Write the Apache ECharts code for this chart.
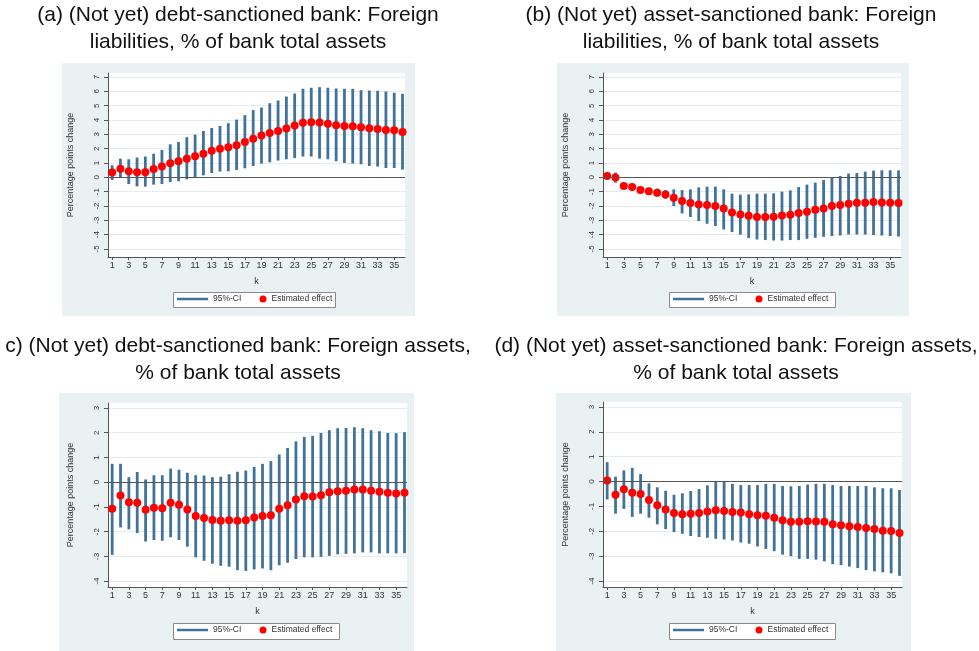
<!DOCTYPE html>
<html>
<head>
<meta charset="utf-8">
<script src="https://cdn.jsdelivr.net/npm/echarts@6/dist/echarts.min.js"></script>
<style>
html,body{margin:0;padding:0;background:#fff;}
#chart{width:979px;height:651px;}
</style>
</head>
<body>
<div id="chart"></div>
<script>
// horizon k and tick labels
var k = [1,2,3,4,5,6,7,8,9,10,11,12,13,14,15,16,17,18,19,20,21,22,23,24,25,26,27,28,29,30,31,32,33,34,35,36];
var xTicks = [1,3,5,7,9,11,13,15,17,19,21,23,25,27,29,31,33,35];
var yTicksTop = [-5,-4,-3,-2,-1,0,1,2,3,4,5,6,7];
var yTicksBottom = [-4,-3,-2,-1,0,1,2,3];

var titles = [
	'(a) (Not yet) debt-sanctioned bank: Foreign\nliabilities, % of bank total assets',
	'(b) (Not yet) asset-sanctioned bank: Foreign\nliabilities, % of bank total assets',
	'c) (Not yet) debt-sanctioned bank: Foreign assets,\n% of bank total assets',
	'(d) (Not yet) asset-sanctioned bank: Foreign assets,\n% of bank total assets'
];

// (a) debt-sanctioned, foreign liabilities
var estA = [0.33,0.6,0.42,0.35,0.35,0.58,0.75,0.98,1.12,1.3,1.47,1.65,1.86,2.0,2.1,2.24,2.47,2.7,2.91,3.1,3.24,3.4,3.61,3.8,3.85,3.82,3.73,3.64,3.59,3.57,3.5,3.43,3.38,3.31,3.29,3.17];
var hiA = [0.84,1.3,1.26,1.38,1.45,1.65,1.91,2.3,2.47,2.8,2.98,3.24,3.45,3.59,3.78,4.03,4.34,4.69,4.87,5.17,5.36,5.64,5.85,6.18,6.25,6.29,6.25,6.2,6.18,6.18,6.08,6.06,6.04,5.99,5.9,5.83];
var loA = [-0.19,-0.05,-0.47,-0.63,-0.65,-0.51,-0.47,-0.33,-0.28,-0.14,0.0,0.14,0.3,0.4,0.42,0.51,0.63,0.79,0.96,1.05,1.17,1.26,1.35,1.45,1.45,1.3,1.26,1.12,1.0,0.96,0.91,0.79,0.75,0.65,0.65,0.54];

// (b) asset-sanctioned, foreign liabilities
var estB = [0.09,-0.02,-0.6,-0.68,-0.89,-0.98,-1.07,-1.19,-1.42,-1.65,-1.79,-1.89,-1.93,-2.0,-2.17,-2.45,-2.59,-2.68,-2.77,-2.77,-2.75,-2.66,-2.61,-2.49,-2.4,-2.26,-2.17,-2.0,-1.93,-1.84,-1.77,-1.77,-1.73,-1.75,-1.77,-1.79];
var hiB = [0.2,0.33,-0.44,-0.51,-0.68,-0.77,-0.79,-0.89,-0.84,-0.89,-0.84,-0.7,-0.65,-0.65,-0.84,-1.14,-1.21,-1.19,-1.14,-1.14,-1.12,-1.0,-0.91,-0.68,-0.51,-0.37,-0.19,0.0,0.09,0.26,0.3,0.4,0.47,0.49,0.49,0.49];
var loB = [-0.07,-0.37,-0.79,-0.84,-1.07,-1.19,-1.33,-1.49,-2.0,-2.52,-2.77,-3.05,-3.24,-3.4,-3.64,-3.82,-4.0,-4.24,-4.34,-4.38,-4.41,-4.41,-4.38,-4.38,-4.29,-4.22,-4.15,-4.1,-4.06,-3.99,-3.99,-3.99,-4.03,-4.06,-4.1,-4.13];

// (c) debt-sanctioned, foreign assets
var estC = [-1.08,-0.54,-0.81,-0.83,-1.12,-1.04,-1.06,-0.83,-0.91,-1.11,-1.37,-1.45,-1.53,-1.56,-1.54,-1.56,-1.54,-1.43,-1.37,-1.34,-1.08,-0.93,-0.7,-0.57,-0.58,-0.53,-0.41,-0.37,-0.35,-0.3,-0.3,-0.35,-0.39,-0.43,-0.46,-0.43];
var hiC = [0.74,0.74,0.2,0.41,0.11,0.28,0.28,0.55,0.5,0.38,0.28,0.27,0.2,0.22,0.32,0.42,0.47,0.62,0.74,0.85,1.12,1.38,1.65,1.83,1.87,1.99,2.1,2.18,2.19,2.22,2.18,2.1,2.06,1.99,1.98,2.02];
var loC = [-2.94,-1.83,-1.91,-2.06,-2.4,-2.34,-2.37,-2.23,-2.34,-2.61,-3.04,-3.18,-3.3,-3.38,-3.42,-3.56,-3.59,-3.53,-3.49,-3.56,-3.36,-3.26,-3.11,-3.04,-3.04,-3.02,-2.98,-2.92,-2.9,-2.88,-2.84,-2.84,-2.88,-2.88,-2.88,-2.87];

// (d) asset-sanctioned, foreign assets
var estD = [0.04,-0.53,-0.31,-0.45,-0.5,-0.74,-0.95,-1.12,-1.26,-1.31,-1.29,-1.26,-1.2,-1.15,-1.18,-1.22,-1.24,-1.31,-1.35,-1.37,-1.45,-1.56,-1.62,-1.62,-1.6,-1.61,-1.62,-1.72,-1.76,-1.8,-1.83,-1.87,-1.91,-1.98,-1.99,-2.07];
var hiD = [0.78,0.2,0.45,0.55,0.3,-0.07,-0.23,-0.37,-0.53,-0.47,-0.38,-0.3,-0.15,-0.01,-0.01,-0.09,-0.14,-0.14,-0.14,-0.09,-0.09,-0.18,-0.19,-0.18,-0.12,-0.09,-0.09,-0.14,-0.18,-0.18,-0.18,-0.18,-0.23,-0.27,-0.27,-0.34];
var loD = [-0.72,-1.29,-1.1,-1.42,-1.29,-1.45,-1.72,-1.91,-2.03,-2.1,-2.19,-2.23,-2.26,-2.3,-2.33,-2.37,-2.45,-2.5,-2.61,-2.71,-2.8,-2.94,-3.0,-3.11,-3.11,-3.14,-3.21,-3.32,-3.36,-3.42,-3.48,-3.56,-3.61,-3.65,-3.69,-3.79];

var ciColor = '#41739a';
var dotColor = '#ff0000';
var panelBg = '#eaf1f3';
var font = 'Liberation Sans, Arial, sans-serif';

var panels = [
	{est:estA, lo:loA, hi:hiA, ticks:yTicksTop, ymin:-5.56, ymax:7.28,
	 grid:[108,73,297,184], bg:[62,63,353,253], title:[238,1.5], box:[173,292,162,15]},
	{est:estB, lo:loB, hi:hiB, ticks:yTicksTop, ymin:-5.56, ymax:7.28,
	 grid:[603,73,298,184], bg:[557,63,352,253], title:[731,1.5], box:[669,292,166,15]},
	{est:estC, lo:loC, hi:hiC, ticks:yTicksBottom, ymin:-4.24, ymax:3.2,
	 grid:[108,403,299,184], bg:[59,393,355,258], title:[238,332.5], box:[173,623,166,16]},
	{est:estD, lo:loD, hi:hiD, ticks:yTicksBottom, ymin:-4.24, ymax:3.2,
	 grid:[603,402,299,185], bg:[556,393,355,258], title:[736,332.5], box:[669,623,166,16]}
];

var option = {
	animation:false,
	title:[], grid:[], xAxis:[], yAxis:[], legend:[], series:[],
	graphic:{elements:[]}
};

function renderCI(params, api){
	var p1 = api.coord([api.value(0), api.value(1)]);
	var p2 = api.coord([api.value(0), api.value(2)]);
	return {
		type:'line',
		shape:{x1:p1[0], y1:p1[1], x2:p2[0], y2:p2[1]},
		style:{stroke:ciColor, lineWidth:2.8}
	};
}

for(var i=0;i<panels.length;i++){
	var p = panels[i];
	option.graphic.elements.push({
		type:'rect', z:-10, silent:true,
		shape:{x:p.bg[0], y:p.bg[1], width:p.bg[2], height:p.bg[3]},
		style:{fill:panelBg}
	});
	option.graphic.elements.push({
		type:'rect', z:3, silent:true,
		shape:{x:p.box[0]+0.5, y:p.box[1]+0.5, width:p.box[2], height:p.box[3]},
		style:{fill:'#fff', stroke:'#8a8a8a', lineWidth:1}
	});
	option.title.push({
		text:titles[i], left:p.title[0], top:p.title[1], textAlign:'center', padding:0,
		textStyle:{fontFamily:font, fontSize:21, fontWeight:'normal', color:'#111', lineHeight:27}
	});
	option.grid.push({
		left:p.grid[0], top:p.grid[1], width:p.grid[2], height:p.grid[3],
		show:true, backgroundColor:'#fff', borderWidth:0
	});
	option.xAxis.push({
		type:'value', gridIndex:i, min:0.5, max:36.3,
		name:'k', nameLocation:'middle', nameGap:20,
		nameTextStyle:{fontFamily:font, fontSize:9, color:'#333'},
		axisLine:{onZero:false, lineStyle:{color:'#555', width:1}},
		axisTick:{customValues:xTicks, length:3, lineStyle:{color:'#555'}},
		axisLabel:{customValues:xTicks, margin:4, fontFamily:font, fontSize:9, color:'#333'},
		splitLine:{show:false}
	});
	option.yAxis.push({
		type:'value', gridIndex:i, min:p.ymin, max:p.ymax,
		name:'Percentage points change', nameLocation:'middle', nameGap:33, nameRotate:90,
		nameTextStyle:{fontFamily:font, fontSize:9, color:'#333'},
		axisLine:{show:true, onZero:false, lineStyle:{color:'#555', width:1}},
		axisTick:{show:true, customValues:p.ticks, length:4, lineStyle:{color:'#555'}},
		axisLabel:{customValues:p.ticks, rotate:90, margin:7, fontFamily:font, fontSize:8, color:'#333'},
		splitLine:{show:true, lineStyle:{color:'#e3ecef', width:1}}
	});
	var ci = [], pts = [];
	for(var j=0;j<k.length;j++){
		ci.push([k[j], p.lo[j], p.hi[j]]);
		pts.push([k[j], p.est[j]]);
	}
	option.series.push({
		type:'custom', name:'95%-CI', xAxisIndex:i, yAxisIndex:i,
		itemStyle:{color:ciColor}, renderItem:renderCI,
		encode:{x:0, y:[1,2]}, data:ci, z:2,
		markLine:{silent:true, symbol:'none', label:{show:false},
			lineStyle:{color:'#555', width:1, type:'solid'}, data:[{yAxis:0}]}
	});
	option.series.push({
		type:'scatter', name:'Estimated effect', xAxisIndex:i, yAxisIndex:i,
		symbolSize:8, itemStyle:{color:dotColor, opacity:1}, data:pts, z:3
	});
	option.legend.push({
		left:p.box[0]+4, top:p.box[1]+2.5, padding:0, itemWidth:31, itemHeight:2.5,
		selectedMode:false, data:[{name:'95%-CI', icon:'rect'}],
		textStyle:{fontFamily:font, fontSize:8.5, color:'#333'}
	});
	option.legend.push({
		left:p.box[0]+86.5, top:p.box[1]+2.5, padding:0, itemWidth:7, itemHeight:7,
		selectedMode:false, data:[{name:'Estimated effect', icon:'circle'}],
		textStyle:{fontFamily:font, fontSize:8.5, color:'#333'}
	});
}

var myChart = echarts.init(document.getElementById('chart'));
myChart.setOption(option);
</script>
</body>
</html>
